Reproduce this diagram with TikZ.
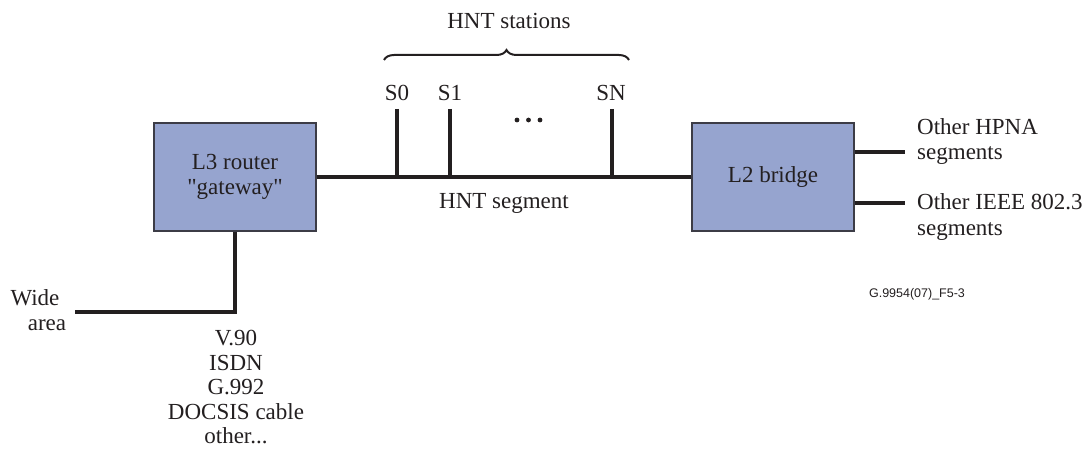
\documentclass[tikz,border=0pt]{standalone}
\usepackage{fontspec}
\setmainfont{Liberation Serif}
\newfontfamily\labelsans{Liberation Sans}
\usetikzlibrary{decorations.pathreplacing}
\definecolor{boxfill}{RGB}{150,164,207}
\definecolor{boxedge}{RGB}{60,60,70}
\definecolor{ink}{RGB}{35,31,32}
\tikzset{
  unitbox/.style={draw=boxedge, line width=1.2pt, fill=boxfill, minimum width=162pt,
    minimum height=108pt, inner sep=0pt, align=center,
    font=\fontsize{23}{25}\selectfont, text=ink},
  wire/.style={draw=ink, line width=3.4pt},
  lbl/.style={inner sep=0pt, anchor=base, font=\fontsize{23}{25}\selectfont, text=ink},
  lblleft/.style={lbl, anchor=base west},
  tag/.style={inner sep=0pt, anchor=base, font=\labelsans\fontsize{12.5}{14}\selectfont, text=ink}
}
\begin{document}
\begin{tikzpicture}[x=1pt, y=-1pt]
  \useasboundingbox (0,0) rectangle (1092,457);

  % the two units
  \node[unitbox] (l3) at (235,177) {L3 router\\\textquotedbl gateway\textquotedbl};
  \node[unitbox] (l2) at (773,177) {L2 bridge};

  % HNT segment bus
  \draw[wire] (l3.east) -- (l2.west);
  \node[lbl] (seglbl) at (504,209) {HNT segment};

  % station taps
  \coordinate (s0b) at (397,177);
  \coordinate (s1b) at (450,177);
  \coordinate (snb) at (612,177);
  \coordinate (s0t) at (397,109);
  \coordinate (s1t) at (450,109);
  \coordinate (snt) at (612,109);
  \draw[wire] (s0t) -- (s0b);
  \draw[wire] (s1t) -- (s1b);
  \draw[wire] (snt) -- (snb);
  \node[lbl] (s0) at (397,101) {S0};
  \node[lbl] (s1) at (450,101) {S1};
  \node[lbl] (sn) at (611,101) {SN};
  \fill[ink] (517,120) circle (2.4pt) (528.5,120) circle (2.4pt) (540,120) circle (2.4pt);

  % station group brace
  \coordinate (bl) at (384,60);
  \coordinate (br) at (629,60);
  \draw[ink, line width=2pt, decorate, decoration={brace, amplitude=10pt}] (bl) -- (br);
  \node[lbl] (hnt) at (509,29) {HNT stations};

  % wide area link
  \coordinate (wcorner) at (235,312);
  \coordinate (wend) at (75,312);
  \draw[wire, line join=miter] (l3.south) -- (wcorner) -- (wend);
  \node[lbl] (wide) at (35,305) {Wide};
  \node[lbl] (area) at (47,330) {area};
  \node[lbl] (w1) at (236,345) {V.90};
  \node[lbl] (w2) at (236,370) {ISDN};
  \node[lbl] (w3) at (236,394) {G.992};
  \node[lbl] (w4) at (236,419) {DOCSIS cable};
  \node[lbl] (w5) at (236,443) {other...};

  % bridged segments
  \coordinate (hp) at (905,152);
  \coordinate (ie) at (905,203);
  \draw[wire] (l2.east |- hp) -- (hp);
  \draw[wire] (l2.east |- ie) -- (ie);
  \node[lblleft] (hp1) at (917,135) {Other HPNA};
  \node[lblleft] (hp2) at (917,160) {segments};
  \node[lblleft] (ie1) at (917,210) {Other IEEE 802.3};
  \node[lblleft] (ie2) at (917,235) {segments};

  \node[tag] (fig) at (917,297) {G.9954(07)\_F5-3};
\end{tikzpicture}
\end{document}
